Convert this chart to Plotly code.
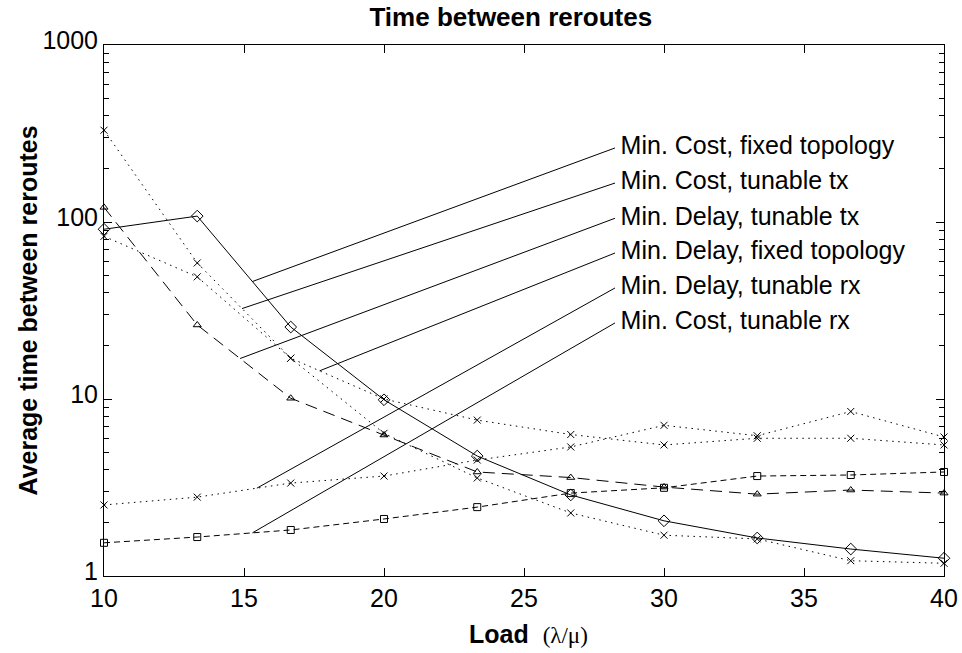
import numpy as np
import plotly.graph_objects as go

# ---------------- data ----------------
load = [10, 13.33, 16.67, 20, 23.33, 26.67, 30, 33.33, 36.67, 40]

min_cost_fixed = [91, 108, 25.5, 9.9, 4.76, 2.87, 2.05, 1.64, 1.42, 1.26]
min_cost_tx = [330, 58.7, 17.0, 6.4, 3.58, 2.27, 1.70, 1.62, 1.22, 1.18]
min_delay_tx = [121, 26.2, 10.1, 6.26, 3.87, 3.6, 3.18, 2.9, 3.06, 2.94]
min_delay_fixed = [83, 49, 17.0, 10.0, 7.6, 6.3, 5.5, 6.0, 6.0, 5.5]
min_delay_rx = [2.52, 2.79, 3.35, 3.67, 4.52, 5.36, 7.1, 6.2, 8.5, 6.1]
min_cost_rx = [1.54, 1.66, 1.82, 2.1, 2.45, 2.94, 3.15, 3.67, 3.72, 3.87]

labels = ["Min. Cost, fixed topology", "Min. Cost, tunable tx",
          "Min. Delay, tunable tx", "Min. Delay, fixed topology",
          "Min. Delay, tunable rx", "Min. Cost, tunable rx"]
label_y = [262, 166, 105, 66.8, 42.4, 26.9]
leader_x = [15.3, 14.93, 14.86, 17.7, 15.46, 15.3]

x_ticks = [10, 15, 20, 25, 30, 35, 40]
y_ticks = [1, 10, 100, 1000]

# ---------------- figure ----------------
FONT = "Liberation Sans, Arial, Helvetica, sans-serif"
fig = go.Figure()

series = [
    (min_cost_fixed, "solid", "diamond-open", 9),
    (min_cost_tx, "1.5px,4.5px", "x-thin-open", 7),
    (min_delay_tx, "12px,7px", "triangle-up-open", 7),
    (min_delay_fixed, "1.5px,4.5px", "x-thin-open", 7),
    (min_delay_rx, "1.5px,4.5px", "x-thin-open", 7),
    (min_cost_rx, "6px,4px", "square-open", 7),
]

for (vals, dash, sym, sz), name in zip(series, labels):
    fig.add_trace(go.Scatter(
        x=load, y=vals, mode="lines+markers", name=name,
        line=dict(color="black", width=1, dash=dash),
        marker=dict(symbol=sym, size=sz, color="black",
                    line=dict(color="black", width=1)),
        showlegend=False, hoverinfo="skip", cliponaxis=False))

# leader lines from labels to curves
line_start_x = 28.25
for (vals, _, _, _), lx, ly in zip(series, leader_x, label_y):
    yv = 10 ** np.interp(lx, load, np.log10(vals))
    fig.add_trace(go.Scatter(
        x=[lx, line_start_x], y=[yv, ly], mode="lines",
        line=dict(color="black", width=1), showlegend=False,
        hoverinfo="skip"))

fig.add_trace(go.Scatter(
    x=[28.45] * len(labels), y=label_y, mode="text", text=labels,
    textposition="middle right",
    textfont=dict(family=FONT, size=25, color="black"),
    showlegend=False, hoverinfo="skip", cliponaxis=False))

axis_common = dict(
    showline=True, linecolor="black", linewidth=1, mirror="ticks",
    ticks="inside", tickcolor="black", ticklen=8, tickwidth=1,
    showgrid=False, zeroline=False, automargin=False,
    tickfont=dict(family=FONT, size=25, color="black"),
)

fig.update_xaxes(range=[10, 40], tickvals=x_ticks,
                 ticktext=[str(v) for v in x_ticks], **axis_common)
fig.update_yaxes(type="log", range=[0, 3], tickvals=y_ticks,
                 ticktext=[str(v) for v in y_ticks], ticklabelshift=-5,
                 minor=dict(ticks="inside", ticklen=5, tickcolor="black",
                            dtick="D1", showgrid=False),
                 **axis_common)

fig.update_layout(
    width=962, height=653,
    margin=dict(l=104, r=18, t=45, b=77, autoexpand=False),
    paper_bgcolor="white", plot_bgcolor="white",
    font=dict(family=FONT, color="black"),
    title=dict(text="<b>Time between reroutes</b>", x=0.531, xanchor="center",
               y=1 - 17 / 653, yanchor="middle",
               font=dict(family=FONT, size=26, color="black")),
    annotations=[
        dict(text="<b>Average time between reroutes</b>", textangle=-90,
             xref="paper", yref="paper", x=-0.0905, y=0.5,
             xanchor="center", yanchor="middle", showarrow=False,
             font=dict(family=FONT, size=25, color="black")),
        dict(text="<b>Load</b>  <span style='font-family:Liberation Serif;font-size:23px'>(λ/μ)</span>",
             xref="paper", yref="paper", x=0.505, y=-0.109,
             xanchor="center", yanchor="middle", showarrow=False,
             font=dict(family=FONT, size=25, color="black")),
    ],
)

fig.write_html("out.html",
               config={"displayModeBar": False},
               post_script="document.body.style.margin='0';"
                           "document.body.style.padding='0';")
